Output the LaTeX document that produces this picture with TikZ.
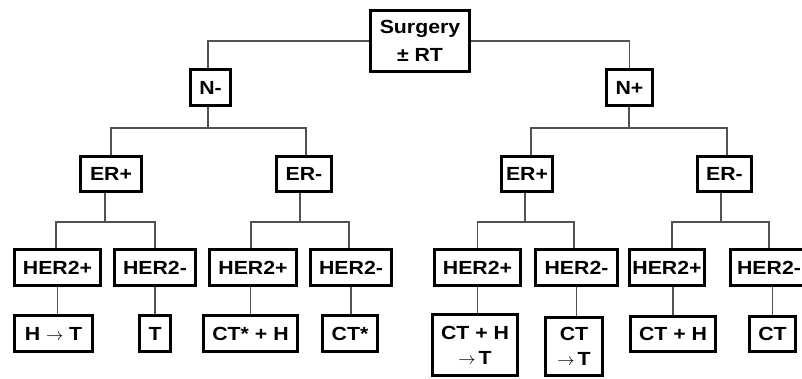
\documentclass[tikz,border=0pt]{standalone}
\usepackage{fontspec}
\setmainfont{Liberation Sans}[FakeStretch=1.12]
\newcommand{\rarr}{\ensuremath{\rightarrow}}
\begin{document}
\begin{tikzpicture}[x=1pt,y=-1pt,
  box/.style={draw, line width=2.6pt, inner sep=0pt, align=center,
    font=\bfseries\fontsize{19}{25}\selectfont},
  conn/.style={draw=black!68, line width=1.3pt}]
\useasboundingbox (0,0) rectangle (802,378);
% level 0
\node[box, minimum width=99.4pt, minimum height=61.4pt, font=\bfseries\fontsize{19}{28}\selectfont] (S) at (420,41) {Surgery\\± RT};
% level 1
\node[box, minimum width=40.4pt, minimum height=36.4pt] (N1) at (210.5,87.5) {N-};
\node[box, minimum width=46.4pt, minimum height=36.4pt] (N2) at (629.5,87.5) {N+};
% level 2
\node[box, minimum width=61.4pt, minimum height=35.4pt] (E1) at (111,174) {ER+};
\node[box, minimum width=55.4pt, minimum height=35.4pt] (E2) at (304,174) {ER-};
\node[box, minimum width=51.4pt, minimum height=35.4pt] (E3) at (527,174) {ER+};
\node[box, minimum width=54.4pt, minimum height=35.4pt] (E4) at (724.5,174) {ER-};
% level 3
\node[box, minimum width=86.4pt, minimum height=36.4pt] (H1) at (57.5,267.5) {HER2+};
\node[box, minimum width=81.4pt, minimum height=36.4pt] (H2) at (155,267.5) {HER2-};
\node[box, minimum width=87.4pt, minimum height=36.4pt] (H3) at (253,267.5) {HER2+};
\node[box, minimum width=81.4pt, minimum height=36.4pt] (H4) at (351,267.5) {HER2-};
\node[box, minimum width=86.4pt, minimum height=36.4pt] (H5) at (477.5,267.5) {HER2+};
\node[box, minimum width=82.4pt, minimum height=36.4pt] (H6) at (576.5,267.5) {HER2-};
\node[box, minimum width=75.4pt, minimum height=36.4pt] (H7) at (667,267.5) {HER2+};
\node[box, minimum width=77.4pt, minimum height=36.4pt] (H8) at (769,267.5) {HER2-};
% leaves
\node[box, minimum width=78.4pt, minimum height=36.4pt] (L1) at (53.5,333.5) {H \rarr\ T};
\node[box, minimum width=31.4pt, minimum height=36.4pt] (L2) at (155,333.5) {T};
\node[box, minimum width=94.4pt, minimum height=36.4pt] (L3) at (250.5,333.5) {CT* + H};
\node[box, minimum width=55.4pt, minimum height=36.4pt] (L4) at (350,333.5) {CT*};
\node[box, minimum width=85.4pt, minimum height=61.4pt] (L5) at (475,345) {CT + H\\\rarr\,T};
\node[box, minimum width=57.4pt, minimum height=58.4pt] (L6) at (574,346.5) {CT\\\rarr\,T};
\node[box, minimum width=85.4pt, minimum height=35.4pt] (L7) at (673,334) {CT + H};
\node[box, minimum width=46.4pt, minimum height=35.4pt] (L8) at (772.5,334) {CT};
% branch points
\coordinate (a1) at (208,128);
\coordinate (a2) at (629,128);
\coordinate (b1) at (105,222);
\coordinate (b2) at (300,222);
\coordinate (b3) at (525,222);
\coordinate (b4) at (721,222);
% connectors
\draw[conn] (S.west) -| ([xshift=-2.5pt]N1.north);
\draw[conn] (S.east) -| (N2.north);
\draw[conn] (N1.south -| a1) -- (a1);
\draw[conn] (E1.north) |- (a1) -| ([xshift=2pt]E2.north);
\draw[conn] (N2.south -| a2) -- (a2);
\draw[conn] ([xshift=4pt]E3.north) |- (a2) -| ([xshift=2.5pt]E4.north);
\draw[conn] (E1.south -| b1) -- (b1);
\draw[conn] ([xshift=-1.5pt]H1.north) |- (b1) -| (H2.north);
\draw[conn] (E2.south -| b2) -- (b2);
\draw[conn] ([xshift=-2pt]H3.north) |- (b2) -| ([xshift=-2pt]H4.north);
\draw[conn] (E3.south -| b3) -- (b3);
\draw[conn] (H5.north) |- (b3) -| ([xshift=-2.5pt]H6.north);
\draw[conn] (E4.south -| b4) -- (b4);
\draw[conn] ([xshift=5pt]H7.north) |- (b4) -| (H8.north);
\draw[conn] (H1.south) -- (H1.south |- L1.north);
\draw[conn] (H2.south) -- (H2.south |- L2.north);
\draw[conn] (L3.north |- H3.south) -- (L3.north);
\draw[conn] (H4.south) -- (H4.south |- L4.north);
\draw[conn] (H5.south) -- (H5.south |- L5.north);
\draw[conn] (H6.south) -- (H6.south |- L6.north);
\draw[conn] (L7.north |- H7.south) -- (L7.north);
\draw[conn] (L8.north |- H8.south) -- (L8.north);
\end{tikzpicture}
\end{document}
